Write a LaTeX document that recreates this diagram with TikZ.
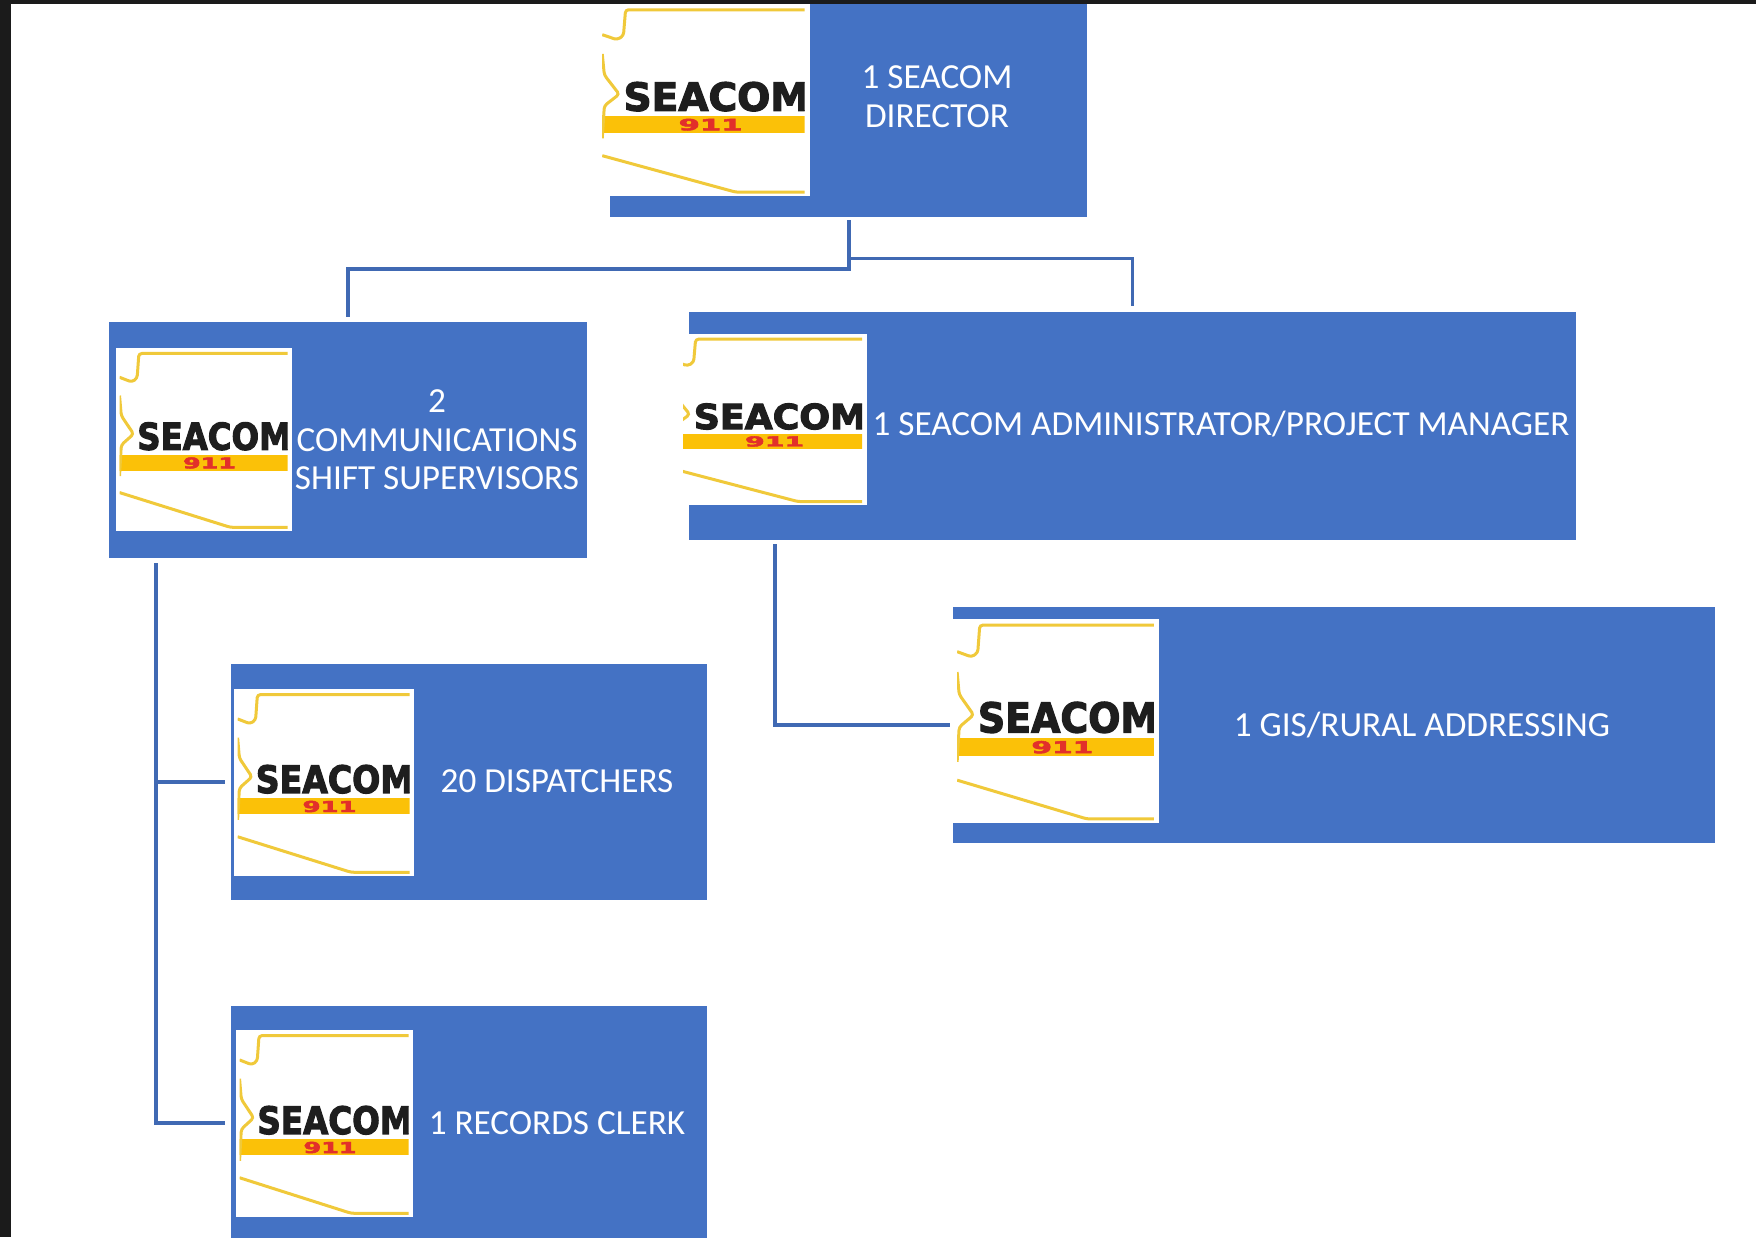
\documentclass[tikz,border=0pt]{standalone}
\usepackage{fontspec}
\setmainfont{Carlito}
\newfontfamily\logofont[FakeBold=3]{DejaVu Sans}
\definecolor{boxblue}{HTML}{4472C4}
\definecolor{linkblue}{HTML}{4069B3}
\definecolor{framedark}{HTML}{1B1B1B}
\definecolor{logoblack}{HTML}{1E1E1E}
\definecolor{logoyellow}{HTML}{FBC108}
\definecolor{mapyellow}{HTML}{F0C93A}
\definecolor{logored}{HTML}{E2302A}
\tikzset{
  box/.style={fill=boxblue, inner sep=0pt},
  boxtext/.style={text=white, align=center, font=\fontsize{35.2}{38.7}\selectfont, inner sep=0pt},
  link/.style={draw=linkblue, line width=4pt},
  mapline/.style={draw=mapyellow, line width=3pt, rounded corners=3pt},
  logotext/.style={inner sep=0pt, anchor=south west},
}
% name, left, top, right, bottom, visible left edge
\newcommand{\seacomlogo}[6]{%
  \pgfmathsetmacro{\logow}{#4-#2}
  \pgfmathsetmacro{\logoh}{#5-#3}
  \pgfmathsetmacro{\namew}{0.875*\logow}
  \pgfmathsetmacro{\nameh}{0.15*\logoh}
  \pgfmathsetmacro{\numw}{0.3*\logow}
  \pgfmathsetmacro{\numh}{0.06*\logoh}
  \begin{scope}[shift={(#2,#3)}, x=\logow pt, y=-\logoh pt]
    \fill[white] (0,0) rectangle (1,1);
    \begin{scope}
      \clip (#6,0) rectangle (0.975,1);
      \fill[logoyellow] (0,0.585) rectangle (1,0.67);
      \draw[mapline]
        (1,0.03) -- (0.13,0.03) -- (0.12,0.165) -- (0.09,0.186) -- (0.02,0.16)
        (0.02,0.26) -- (0.03,0.37) -- (0.10,0.47) -- (0.03,0.53) -- (0.02,0.7)
        (0.02,0.79) -- (0.65,0.98) -- (1,0.98);
      \node[logotext, text=logoblack] (#1name) at (0.12,0.56)
        {\resizebox{\namew pt}{\nameh pt}{\logofont\bfseries SEACOM}};
      \node[logotext, text=logored] (#1num) at (0.38,0.66)
        {\resizebox{\numw pt}{\numh pt}{\logofont\bfseries 911}};
    \end{scope}
  \end{scope}
}
\begin{document}
\begin{tikzpicture}[x=1pt, y=-1pt]
  \useasboundingbox (0,0) rectangle (1756,1237);
  % Frame
  \fill[framedark] (0,0) rectangle (1756,4);
  \fill[framedark] (0,0) rectangle (11,1237);

  % Boxes
  \node[box, minimum width=477pt, minimum height=213pt] (director) at (848.5,110.5) {};
  \node[box, minimum width=478pt, minimum height=236pt] (comm) at (348,440) {};
  \node[box, minimum width=887pt, minimum height=228pt] (admin) at (1132.5,425.5) {};
  \node[box, minimum width=762pt, minimum height=236pt] (gis) at (1334,725) {};
  \node[box, minimum width=476pt, minimum height=236pt] (disp) at (469,782) {};
  \node[box, minimum width=476pt, minimum height=234pt] (clerk) at (469,1123) {};

  % Logos
  \seacomlogo{dirlogo}{598}{4}{810}{196}{0.02}
  \seacomlogo{commlogo}{116}{348}{292}{531}{0.02}
  \seacomlogo{adminlogo}{670}{334}{867}{505}{0.066}
  \seacomlogo{gislogo}{953}{619}{1159}{823}{0.02}
  \seacomlogo{displogo}{234}{689}{414}{876}{0.02}
  \seacomlogo{clerklogo}{236}{1030}{413}{1217}{0.02}

  % Labels
  \node[boxtext] (dirlabel) at (937,97) {1 SEACOM\\DIRECTOR};
  \node[boxtext] (commlabel) at (437,440) {2\\COMMUNICATIONS\\SHIFT SUPERVISORS};
  \node[boxtext] (adminlabel) at (1221,424) {1 SEACOM ADMINISTRATOR/PROJECT MANAGER};
  \node[boxtext] (gislabel) at (1422,725) {1 GIS/RURAL ADDRESSING};
  \node[boxtext] (displabel) at (557,781.5) {20 DISPATCHERS};
  \node[boxtext] (clerklabel) at (557,1123) {1 RECORDS CLERK};

  % Connectors
  \coordinate (dirbranch) at (849,258);
  \coordinate (commdrop) at (156,563);
  \coordinate (admindrop) at (775,544);
  \draw[link, shorten <=3pt, shorten >=5pt] (director.south) -- ++(0,52) -| (comm.north);
  \draw[link, line width=3pt, shorten >=5pt] (dirbranch) -| (admin.north);
  \draw[link, shorten >=6pt] (commdrop) |- (clerk.west);
  \draw[link, shorten >=6pt] (commdrop |- disp.west) -- (disp.west);
  \draw[link, shorten >=3pt] (admindrop) |- (gis.west);
\end{tikzpicture}
\end{document}
